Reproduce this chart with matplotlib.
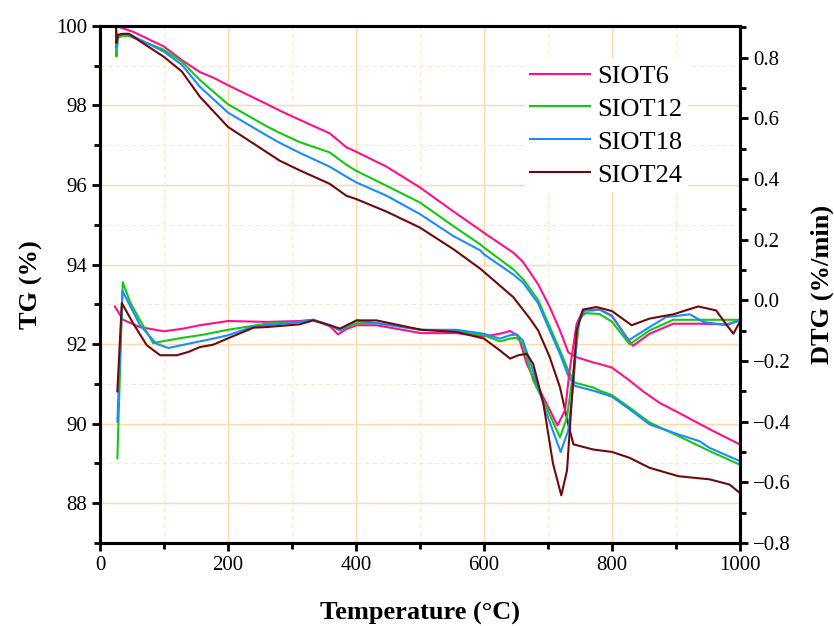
import matplotlib
matplotlib.use("Agg")
import matplotlib.pyplot as plt
from matplotlib.ticker import MultipleLocator

plt.rcParams['font.family'] = ['Liberation Serif', 'DejaVu Serif']
plt.rcParams['mathtext.fontset'] = 'stix'

labels = ["SIOT6", "SIOT12", "SIOT18", "SIOT24"]
colors = ["#FF0F8C", "#14C814", "#1A8CFF", "#700A0A"]

# ---- TG curves (left axis, %) ----
tg6_t = [25, 52, 100, 128, 156, 177, 200, 260, 281, 312, 359, 385, 400, 448, 500, 552, 594, 600,
         646, 661, 685, 703, 719, 732, 745, 771, 781, 800, 825, 850, 875, 904, 953, 1000]
tg6 = [100.0, 99.85, 99.48, 99.14, 98.84, 98.7, 98.51, 98.04, 97.87, 97.64, 97.30, 96.95, 96.84,
       96.46, 95.94, 95.34, 94.87, 94.80, 94.30, 94.07, 93.5, 92.93, 92.34, 91.79, 91.67, 91.54,
       91.5, 91.41, 91.12, 90.8, 90.52, 90.28, 89.86, 89.48]

tg12_t = [25, 25.5, 28, 35, 45, 100, 128, 156, 200, 260, 281, 312, 359, 385, 400, 448, 500, 552,
          594, 600, 646, 663, 685, 703, 719, 732, 742, 771, 781, 800, 828, 859, 904, 953, 1000]
tg12 = [100.0, 99.23, 99.7, 99.75, 99.75, 99.4, 99.1, 98.64, 98.03, 97.48, 97.31, 97.08, 96.82,
        96.51, 96.36, 95.98, 95.56, 94.97, 94.51, 94.43, 93.88, 93.6, 93.1, 92.43, 91.84, 91.33,
        91.03, 90.91, 90.83, 90.72, 90.4, 90.03, 89.69, 89.31, 88.97]

tg18_t = [25, 25.5, 28, 35, 45, 100, 128, 156, 200, 260, 281, 312, 359, 385, 400, 448, 500, 552,
          594, 600, 646, 661, 685, 703, 719, 732, 742, 771, 781, 800, 828, 859, 904, 937, 953, 1000]
tg18 = [100.0, 99.45, 99.75, 99.8, 99.8, 99.35, 99.02, 98.47, 97.82, 97.25, 97.06, 96.81, 96.46,
        96.21, 96.07, 95.73, 95.27, 94.72, 94.36, 94.26, 93.75, 93.55, 93.02, 92.34, 91.75, 91.2,
        90.95, 90.83, 90.78, 90.68, 90.36, 89.98, 89.73, 89.56, 89.39, 89.06]

tg24_t = [25, 25.5, 28, 35, 45, 100, 128, 156, 200, 260, 281, 312, 359, 385, 400, 448, 500, 552,
          594, 615, 646, 672, 685, 703, 719, 732, 740, 771, 800, 828, 859, 904, 953, 984, 1000]
tg24 = [100.0, 99.57, 99.78, 99.8, 99.8, 99.22, 98.85, 98.22, 97.46, 96.83, 96.61, 96.37, 96.03,
        95.73, 95.65, 95.33, 94.93, 94.39, 93.9, 93.61, 93.18, 92.64, 92.34, 91.67, 90.91, 89.98,
        89.48, 89.35, 89.29, 89.14, 88.89, 88.68, 88.6, 88.47, 88.26]

# ---- DTG curves (right axis, %/min) ----
dtg6_t = [23, 36, 62, 100, 130, 156, 200, 260, 312, 333, 359, 372, 385, 401, 432, 502, 557, 600,
          625, 641, 654, 667, 682, 698, 715, 727, 734, 745, 755, 771, 781, 800, 823, 833, 859, 896,
          937, 980, 1000]
dtg6 = [-0.02, -0.064, -0.088, -0.102, -0.093, -0.082, -0.068, -0.071, -0.068, -0.064, -0.085,
        -0.112, -0.095, -0.082, -0.082, -0.108, -0.108, -0.119, -0.110, -0.101, -0.118, -0.209,
        -0.275, -0.340, -0.412, -0.362, -0.231, -0.077, -0.033, -0.033, -0.03, -0.052, -0.121,
        -0.150, -0.110, -0.077, -0.077, -0.079, -0.066]

dtg12_t = [27, 35.4, 47, 62.5, 83, 100, 130, 156, 200, 245, 260, 312, 333, 359, 375, 401, 432, 502,
           557, 600, 625, 641, 651, 661, 677, 695, 719, 730, 740, 750, 760, 781, 800, 828, 859, 896,
           937, 1000]
dtg12 = [-0.52, 0.060, -0.006, -0.066, -0.141, -0.134, -0.123, -0.115, -0.097, -0.082, -0.077,
         -0.071, -0.064, -0.082, -0.099, -0.075, -0.075, -0.097, -0.102, -0.115, -0.135, -0.126,
         -0.123, -0.143, -0.264, -0.340, -0.452, -0.384, -0.231, -0.055, -0.042, -0.045, -0.07,
         -0.145, -0.099, -0.064, -0.064, -0.064]

dtg18_t = [27, 35, 62.5, 88, 107, 138, 177, 200, 240, 260, 312, 333, 359, 375, 401, 432, 502, 557,
           600, 625, 641, 651, 661, 680, 698, 720, 732, 740, 747, 758, 781, 800, 826, 859, 885, 922,
           943, 979, 1000]
dtg18 = [-0.40, 0.031, -0.082, -0.143, -0.157, -0.143, -0.126, -0.115, -0.086, -0.082, -0.071,
         -0.064, -0.082, -0.099, -0.066, -0.075, -0.097, -0.097, -0.110, -0.126, -0.115, -0.112,
         -0.132, -0.253, -0.373, -0.500, -0.428, -0.275, -0.077, -0.033, -0.030, -0.05, -0.132,
         -0.088, -0.055, -0.046, -0.071, -0.082, -0.066]

dtg24_t = [27, 34, 52, 73, 94, 120, 138, 156, 177, 200, 240, 260, 312, 333, 359, 375, 401, 432, 502,
           557, 600, 625, 641, 654, 667, 677, 693, 708, 721, 730, 737, 745, 755, 776, 800, 831, 859,
           896, 935, 963, 982, 990, 1000]
dtg24 = [-0.30, -0.009, -0.077, -0.148, -0.181, -0.181, -0.170, -0.154, -0.146, -0.125, -0.090,
         -0.088, -0.079, -0.066, -0.082, -0.093, -0.066, -0.066, -0.097, -0.104, -0.126, -0.165,
         -0.192, -0.181, -0.176, -0.209, -0.340, -0.538, -0.643, -0.560, -0.340, -0.099, -0.030,
         -0.022, -0.035, -0.082, -0.060, -0.046, -0.020, -0.033, -0.088, -0.110, -0.071]

tg_t = [tg6_t, tg12_t, tg18_t, tg24_t]
tg_v = [tg6, tg12, tg18, tg24]
dtg_t = [dtg6_t, dtg12_t, dtg18_t, dtg24_t]
dtg_v = [dtg6, dtg12, dtg18, dtg24]

fig = plt.figure(figsize=(8.34, 6.26), dpi=100)
ax = fig.add_axes([0.12, 0.1326, 0.767, 0.826])
ax2 = ax.twinx()

lines = []
for t, v, c, lab in zip(tg_t, tg_v, colors, labels):
    ln, = ax.plot(t, v, color=c, lw=1.5, label=lab)
    lines.append(ln)
for t, v, c in zip(dtg_t, dtg_v, colors):
    ax2.plot(t, v, color=c, lw=1.5)

ax.set_xlim(0, 1000)
ax.set_ylim(87, 100)
ax2.set_ylim(-0.8, 0.905)

ax.xaxis.set_major_locator(MultipleLocator(200))
ax.xaxis.set_minor_locator(MultipleLocator(100))
ax.yaxis.set_major_locator(MultipleLocator(2))
ax.yaxis.set_minor_locator(MultipleLocator(1))
ax2.yaxis.set_major_locator(MultipleLocator(0.2))
ax2.yaxis.set_minor_locator(MultipleLocator(0.1))
ax2.set_yticks([-0.8, -0.6, -0.4, -0.2, 0.0, 0.2, 0.4, 0.6, 0.8])

ax.set_axisbelow(True)
ax.grid(which='major', color='#FFD9A6', lw=1.0, ls='-')
ax.grid(which='minor', color='#FFE6D0', lw=0.8, ls=(0, (4, 3)))

for a in (ax, ax2):
    for s in a.spines.values():
        s.set_linewidth(2.2)
    a.tick_params(which='major', direction='out', length=6, width=2, labelsize=15)
    a.tick_params(which='minor', direction='out', length=4, width=2)
ax.tick_params(top=False, which='both')
ax2.tick_params(top=False, which='both')

ax.set_xlabel("Temperature (°C)", fontsize=19, fontweight='bold', labelpad=19)
ax.set_ylabel("TG (%)", fontsize=19, fontweight='bold', labelpad=9)
ax2.set_ylabel("DTG (%/min)", fontsize=19, fontweight='bold', labelpad=14)

leg = ax2.legend(lines, labels, loc='upper left', bbox_to_anchor=(0.664, 0.936), fontsize=19,
                 frameon=True, handlelength=2.27, handletextpad=0.27, labelspacing=0.36,
                 borderpad=0.2, borderaxespad=0, fancybox=False)
leg.get_frame().set_edgecolor('none')
leg.get_frame().set_facecolor('white')
leg.get_frame().set_alpha(1.0)

fig.savefig("out.png", dpi=100)
